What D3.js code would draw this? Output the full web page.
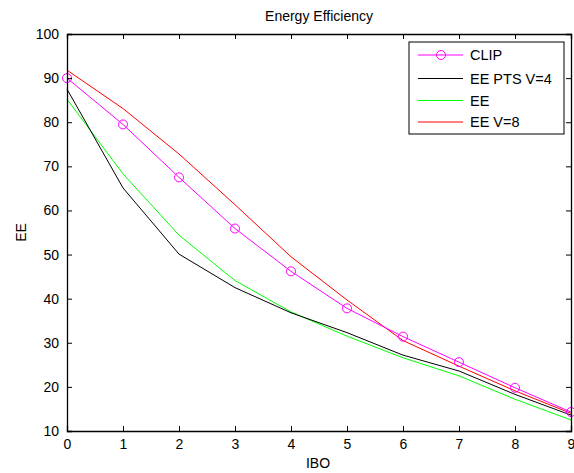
<!DOCTYPE html>
<html>
<head>
<meta charset="utf-8">
<script src="https://cdn.jsdelivr.net/npm/d3@7"></script>
<style>
  body { margin: 0; background: #fff; }
  text { font-family: "Liberation Sans", Arial, sans-serif; fill: #000; }
</style>
</head>
<body>
<svg id="chart" width="574" height="473"></svg>
<script>
const ibo = [0, 1, 2, 3, 4, 5, 6, 7, 8, 9];
const clip = [90, 79.5, 67.5, 55.9, 46.2, 37.8, 31.4, 25.6, 19.8, 14.3];
const eePts = [87.5, 65.1, 50.1, 42.5, 36.8, 32.3, 27.2, 23.6, 18.3, 13.6];
const ee = [85.2, 68.3, 54.4, 44.1, 37.0, 31.5, 26.6, 22.5, 17.2, 12.5];
const eeV8 = [91.8, 83.1, 72.8, 61.3, 49.5, 39.7, 30.5, 24.7, 19.1, 14.0];
const xTicks = [0, 1, 2, 3, 4, 5, 6, 7, 8, 9];
const yTicks = [10, 20, 30, 40, 50, 60, 70, 80, 90, 100];

const seriesList = [
  { name: "CLIP", values: clip, color: "#ff00ff", marker: true },
  { name: "EE  PTS V=4", values: eePts, color: "#000000", marker: false },
  { name: "EE", values: ee, color: "#00ff00", marker: false },
  { name: "EE V=8", values: eeV8, color: "#ff0000", marker: false }
];

const mLeft = 67, mRight = 571, mTop = 34, mBottom = 431;

const x = d3.scaleLinear().domain([0, 9]).range([mLeft, mRight]);
const y = d3.scaleLinear().domain([10, 100]).range([mBottom, mTop]);

const svg = d3.select("#chart");

const plot = svg.append("g");
const line = d3.line().x((d, i) => x(ibo[i])).y(d => y(d));

// order: later series on top
const drawOrder = [seriesList[2], seriesList[1], seriesList[3], seriesList[0]];
drawOrder.forEach(s => {
  plot.append("path")
    .datum(s.values)
    .attr("d", line)
    .attr("fill", "none")
    .attr("stroke", s.color)
    .attr("stroke-width", 1);
  if (s.marker) {
    plot.selectAll(null)
      .data(s.values)
      .enter()
      .append("circle")
      .attr("cx", (d, i) => x(ibo[i]))
      .attr("cy", d => y(d))
      .attr("r", 4.5)
      .attr("fill", "none")
      .attr("stroke", s.color)
      .attr("stroke-width", 1);
  }
});

// axes, matlab style: ticks inside, box all around
const tickLen = 5;
svg.append("g")
  .attr("transform", `translate(0,${mBottom})`)
  .call(d3.axisBottom(x).tickValues(xTicks).tickSize(-tickLen).tickPadding(tickLen + 3))
  .call(g => g.selectAll("text").style("font-size", "14px"));
svg.append("g")
  .attr("transform", `translate(0,${mTop})`)
  .call(d3.axisTop(x).tickValues(xTicks).tickSize(-tickLen).tickFormat(""));
svg.append("g")
  .attr("transform", `translate(${mLeft},0)`)
  .call(d3.axisLeft(y).tickValues(yTicks).tickSize(-tickLen).tickPadding(tickLen + 3))
  .call(g => g.selectAll("text").style("font-size", "14px"));
svg.append("g")
  .attr("transform", `translate(${mRight},0)`)
  .call(d3.axisRight(y).tickValues(yTicks).tickSize(-tickLen).tickFormat(""));

svg.selectAll(".domain").attr("stroke", "#000").attr("stroke-width", 1.3);
svg.selectAll(".tick line").attr("stroke", "#000");
svg.selectAll(".tick text").attr("fill", "#000");

// title and labels
svg.append("text")
  .attr("x", (mLeft + mRight) / 2)
  .attr("y", 21)
  .attr("text-anchor", "middle")
  .style("font-size", "14px")
  .text("Energy Efficiency");

svg.append("text")
  .attr("x", 318)
  .attr("y", 468)
  .attr("text-anchor", "middle")
  .style("font-size", "14px")
  .text("IBO");

svg.append("text")
  .attr("transform", `translate(26,${(mTop + mBottom) / 2}) rotate(-90)`)
  .attr("text-anchor", "middle")
  .style("font-size", "14px")
  .text("EE");

// legend
const lg = svg.append("g");
lg.append("rect")
  .attr("x", 409).attr("y", 42)
  .attr("width", 155).attr("height", 92)
  .attr("fill", "#fff")
  .attr("stroke", "#000")
  .attr("stroke-width", 1);

const rowY = [55, 78.5, 100.5, 122];
seriesList.forEach((s, i) => {
  lg.append("line")
    .attr("x1", 418).attr("x2", 463)
    .attr("y1", rowY[i]).attr("y2", rowY[i])
    .attr("stroke", s.color);
  if (s.marker) {
    lg.append("circle")
      .attr("cx", 441).attr("cy", rowY[i]).attr("r", 4.5)
      .attr("fill", "none").attr("stroke", s.color);
  }
  lg.append("text")
    .attr("x", 470).attr("y", rowY[i] + 5)
    .style("font-size", "14.5px")
    .text(s.name);
});
</script>
</body>
</html>
